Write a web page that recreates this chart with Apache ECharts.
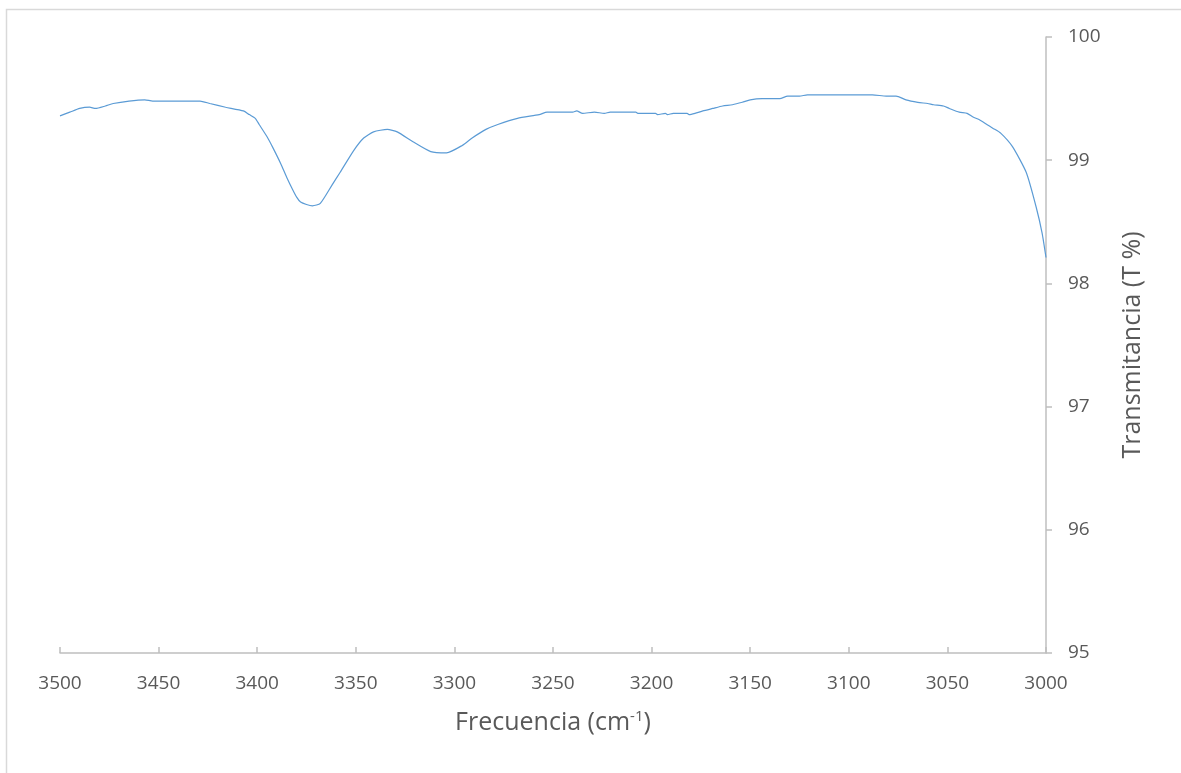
<!DOCTYPE html>
<html>
<head>
<meta charset="utf-8">
<script src="https://cdn.jsdelivr.net/npm/echarts@6/dist/echarts.min.js"></script>
<style>
html,body{margin:0;padding:0;background:#fff;}
#chart{width:1181px;height:773px;}
</style>
</head>
<body>
<div id="chart"></div>
<script>
// Wavenumbers (cm-1) and transmittance (%)
const frequency = [3500,3495,3490,3485,3482,3477,3473,3465,3457,3453,3440,3429,3424,3416,3407,3404,3401,3399,3395,3392,3388,3385,3382,3380,3378,3375,3372,3368,3362,3358,3351,3346,3341,3334,3329,3321,3312,3304,3296,3291,3284,3278,3268,3257,3253,3240,3238,3235,3229,3224,3221,3208,3207,3198,3197,3193,3192,3189,3182,3181,3178,3174,3169,3164,3159,3154,3150,3144,3135,3131,3125,3121,3115,3110,3099,3088,3081,3076,3071,3065,3060,3057,3052,3049,3044,3040,3037,3034,3030,3027,3023,3017,3010,3005,3002,3000];
const transmittance = [99.36,99.39,99.42,99.43,99.42,99.44,99.46,99.48,99.49,99.48,99.48,99.48,99.46,99.43,99.40,99.37,99.34,99.29,99.19,99.10,98.97,98.86,98.76,98.70,98.66,98.64,98.63,98.65,98.80,98.90,99.08,99.18,99.23,99.25,99.23,99.15,99.07,99.06,99.12,99.18,99.25,99.29,99.34,99.37,99.39,99.39,99.40,99.38,99.39,99.38,99.39,99.39,99.38,99.38,99.37,99.38,99.37,99.38,99.38,99.37,99.38,99.40,99.42,99.44,99.45,99.47,99.49,99.50,99.50,99.52,99.52,99.53,99.53,99.53,99.53,99.53,99.52,99.52,99.49,99.47,99.46,99.45,99.44,99.42,99.39,99.38,99.35,99.33,99.29,99.26,99.22,99.11,98.90,98.62,98.41,98.21];
const xTicks = {min: 3000, max: 3500, step: 50};
const yTicks = {min: 95, max: 100, step: 1};
const xTitle = 'Frecuencia (cm';
const xTitleSup = '-1';
const yTitle = 'Transmitancia (T %)';

const seriesData = frequency.map((f, i) => [f, transmittance[i]]);
const font = '"Open Sans", "Liberation Sans", sans-serif';
const chart = echarts.init(document.getElementById('chart'));
chart.setOption({
  animation: false,
  backgroundColor: '#ffffff',
  graphic: [{
    type: 'rect',
    shape: {x: 6.5, y: 9.5, width: 1300, height: 900},
    style: {fill: 'none', stroke: '#d9d9d9', lineWidth: 1.5},
    silent: true
  }],
  grid: {left: 60, right: 135, top: 37, bottom: 120, containLabel: false},
  xAxis: {
    type: 'value',
    inverse: true,
    min: xTicks.min, max: xTicks.max, interval: xTicks.step,
    axisLine: {show: true, onZero: false, lineStyle: {color: '#bfbfbf', width: 1.5}},
    axisTick: {show: true, inside: true, length: 6, lineStyle: {color: '#bfbfbf', width: 1.5}},
    splitLine: {show: false},
    axisLabel: {color: '#595959', fontSize: 19, fontFamily: font, margin: 21, formatter: v => String(v)},
    name: xTitle + '{sup|' + xTitleSup + '})',
    nameLocation: 'middle',
    nameGap: 56,
    nameTextStyle: {
      color: '#595959', fontSize: 25, fontFamily: font,
      rich: {sup: {fontSize: 15, color: '#595959', fontFamily: font, verticalAlign: 'top', padding: [0,0,12,0]}}
    }
  },
  yAxis: {
    type: 'value',
    position: 'right',
    min: yTicks.min, max: yTicks.max, interval: yTicks.step,
    axisLine: {show: true, lineStyle: {color: '#bfbfbf', width: 1.5}},
    axisTick: {show: true, inside: false, length: 6, lineStyle: {color: '#bfbfbf', width: 1.5}},
    splitLine: {show: false},
    axisLabel: {color: '#595959', fontSize: 19, fontFamily: font, margin: 22, formatter: v => String(v)},
    name: yTitle,
    nameLocation: 'middle',
    nameRotate: 90,
    nameGap: 74,
    nameTextStyle: {color: '#595959', fontSize: 25, fontFamily: font}
  },
  series: [{
    type: 'line',
    data: seriesData,
    showSymbol: false,
    symbol: 'none',
    smooth: 0.2,
    lineStyle: {color: '#5B9BD5', width: 1.2}
  }]
});
</script>
</body>
</html>
